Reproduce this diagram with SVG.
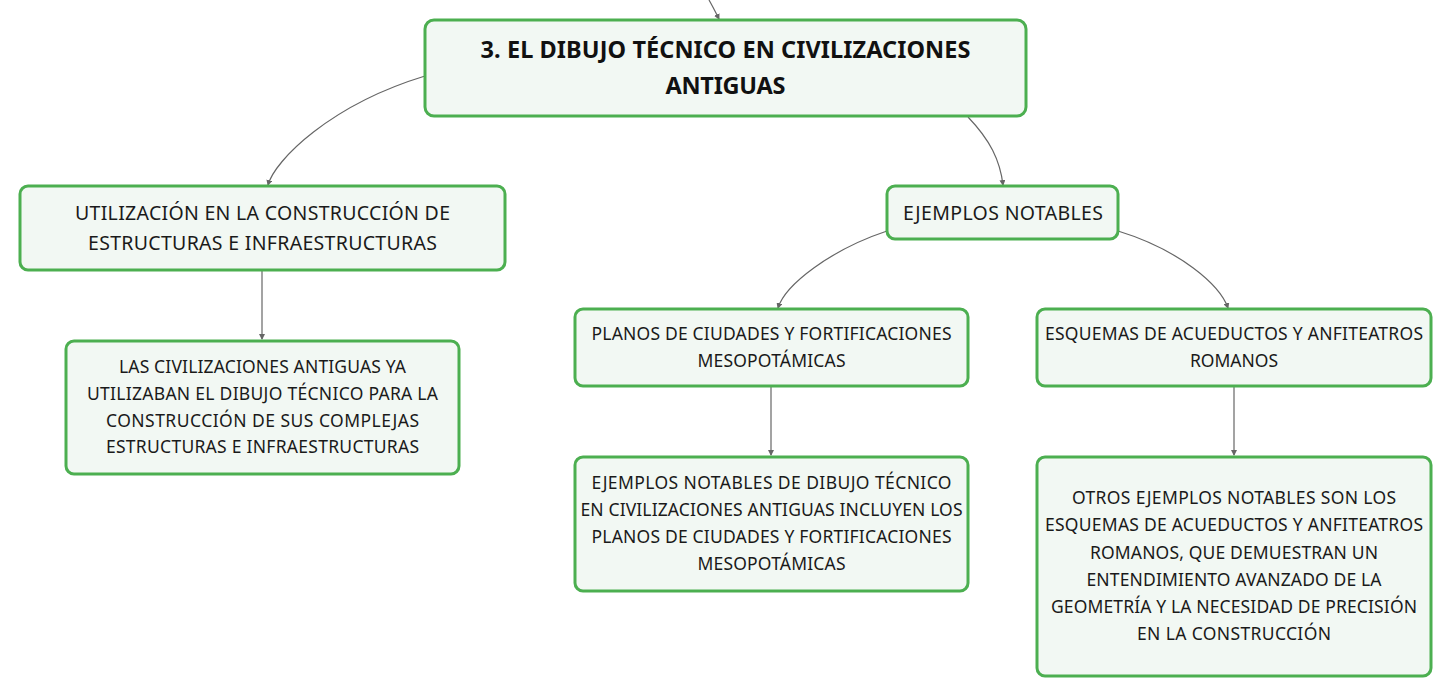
<svg xmlns="http://www.w3.org/2000/svg" width="1451" height="697" viewBox="0 0 1451 697">
<defs>
<style>
.box{fill:#f2f8f3;stroke:#4caf50;stroke-width:3}
.t{font-family:"Noto Sans","Open Sans","Liberation Sans",sans-serif;font-size:17.5px;fill:#1a1a1a;text-anchor:middle}
.m{font-family:"Noto Sans","Open Sans","Liberation Sans",sans-serif;font-size:19.5px;fill:#1a1a1a;text-anchor:middle}
.h{font-family:"Noto Sans","Open Sans","Liberation Sans",sans-serif;font-size:23.5px;font-weight:bold;fill:#111;text-anchor:middle}
.c{fill:none;stroke:#666;stroke-width:1.2}
</style>
<marker id="ar" viewBox="0 0 6 6" refX="5" refY="3" markerWidth="5" markerHeight="5" orient="auto">
<path d="M0,0 L6,3 L0,6 z" fill="#666"/>
</marker>
</defs>
<rect width="1451" height="697" fill="#ffffff"/>
<g id="connectors">
<path class="c" d="M709,0 C713,7 716,13 719,19" marker-end="url(#ar)"/>
<path class="c" d="M425,76 C330,105 275,160 268,185" marker-end="url(#ar)"/>
<path class="c" d="M968,117 C990,140 1000,160 1003,185" marker-end="url(#ar)"/>
<path class="c" d="M887,231 C830,250 785,285 778,308" marker-end="url(#ar)"/>
<path class="c" d="M1118,231 C1180,250 1220,285 1228,308" marker-end="url(#ar)"/>
<path class="c" d="M262,270 L262,339" marker-end="url(#ar)"/>
<path class="c" d="M771,386 L771,455" marker-end="url(#ar)"/>
<path class="c" d="M1234,386 L1234,455" marker-end="url(#ar)"/>
</g>
<g id="root">
<rect class="box" x="425" y="20" width="601" height="96" rx="9"/>
<text class="h" x="725.5" y="58" textLength="490" lengthAdjust="spacing">3. EL DIBUJO TÉCNICO EN CIVILIZACIONES</text>
<text class="h" x="725.5" y="94" textLength="120" lengthAdjust="spacing">ANTIGUAS</text>
</g>
<g id="utilizacion">
<rect class="box" x="20" y="186" width="485" height="84" rx="8"/>
<text class="m" x="262.5" y="220" textLength="375" lengthAdjust="spacing">UTILIZACIÓN EN LA CONSTRUCCIÓN DE</text>
<text class="m" x="262.5" y="250" textLength="349" lengthAdjust="spacing">ESTRUCTURAS E INFRAESTRUCTURAS</text>
</g>
<g id="civilizaciones">
<rect class="box" x="66" y="341" width="393" height="133" rx="8"/>
<text class="t" x="262.5" y="373" textLength="287" lengthAdjust="spacing">LAS CIVILIZACIONES ANTIGUAS YA</text>
<text class="t" x="262.5" y="399.5" textLength="351" lengthAdjust="spacing">UTILIZABAN EL DIBUJO TÉCNICO PARA LA</text>
<text class="t" x="262.5" y="426.5" textLength="313" lengthAdjust="spacing">CONSTRUCCIÓN DE SUS COMPLEJAS</text>
<text class="t" x="262.5" y="453" textLength="313" lengthAdjust="spacing">ESTRUCTURAS E INFRAESTRUCTURAS</text>
</g>
<g id="ejemplos">
<rect class="box" x="887" y="186" width="231" height="53" rx="8"/>
<text class="m" x="1003" y="220" textLength="200" lengthAdjust="spacing">EJEMPLOS NOTABLES</text>
</g>
<g id="planos">
<rect class="box" x="575" y="309" width="393" height="77" rx="8"/>
<text class="t" x="771.5" y="339.5" textLength="360" lengthAdjust="spacing">PLANOS DE CIUDADES Y FORTIFICACIONES</text>
<text class="t" x="771.5" y="366.5" textLength="148" lengthAdjust="spacing">MESOPOTÁMICAS</text>
</g>
<g id="ejemplos-detalle">
<rect class="box" x="575" y="457" width="393" height="134" rx="8"/>
<text class="t" x="771.5" y="489" textLength="360" lengthAdjust="spacing">EJEMPLOS NOTABLES DE DIBUJO TÉCNICO</text>
<text class="t" x="771.5" y="515.5" textLength="382" lengthAdjust="spacing">EN CIVILIZACIONES ANTIGUAS INCLUYEN LOS</text>
<text class="t" x="771.5" y="542.5" textLength="360" lengthAdjust="spacing">PLANOS DE CIUDADES Y FORTIFICACIONES</text>
<text class="t" x="771.5" y="569.5" textLength="148" lengthAdjust="spacing">MESOPOTÁMICAS</text>
</g>
<g id="esquemas">
<rect class="box" x="1037" y="309" width="394" height="77" rx="8"/>
<text class="t" x="1234" y="339.5" textLength="378" lengthAdjust="spacing">ESQUEMAS DE ACUEDUCTOS Y ANFITEATROS</text>
<text class="t" x="1234" y="366.5" textLength="88" lengthAdjust="spacing">ROMANOS</text>
</g>
<g id="otros">
<rect class="box" x="1037" y="457" width="394" height="219" rx="8"/>
<text class="t" x="1234" y="504" textLength="324" lengthAdjust="spacing">OTROS EJEMPLOS NOTABLES SON LOS</text>
<text class="t" x="1234" y="531" textLength="378" lengthAdjust="spacing">ESQUEMAS DE ACUEDUCTOS Y ANFITEATROS</text>
<text class="t" x="1234" y="558.5" textLength="288" lengthAdjust="spacing">ROMANOS, QUE DEMUESTRAN UN</text>
<text class="t" x="1234" y="585.5" textLength="295" lengthAdjust="spacing">ENTENDIMIENTO AVANZADO DE LA</text>
<text class="t" x="1234" y="612.5" textLength="366" lengthAdjust="spacing">GEOMETRÍA Y LA NECESIDAD DE PRECISIÓN</text>
<text class="t" x="1234" y="639.5" textLength="194" lengthAdjust="spacing">EN LA CONSTRUCCIÓN</text>
</g>
</svg>
